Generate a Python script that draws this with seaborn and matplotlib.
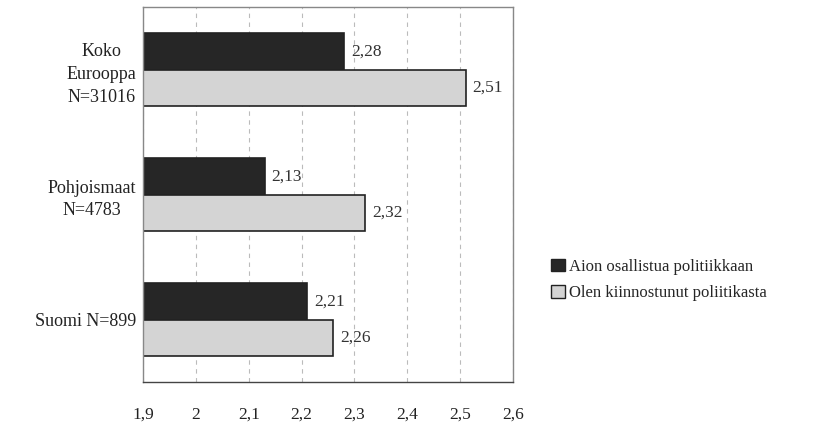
import matplotlib
matplotlib.use("Agg")
import matplotlib.pyplot as plt
import pandas as pd
import seaborn as sns
from matplotlib.patches import Patch

groups = ["Koko\nEurooppa\nN=31016", "Pohjoismaat\nN=4783", "Suomi N=899"]
series = ["Aion osallistua politiikkaan", "Olen kiinnostunut poliitikasta"]
osallistua = [2.28, 2.13, 2.21]
kiinnostunut = [2.51, 2.32, 2.26]
xticks = [1.9, 2.0, 2.1, 2.2, 2.3, 2.4, 2.5, 2.6]
colors = ["#262626", "#d4d4d4"]

frame = pd.DataFrame({
    "group": groups * 2,
    "series": [series[0]] * 3 + [series[1]] * 3,
    "value": osallistua + kiinnostunut,
})

sns.set_theme(style="white")
plt.rcParams["font.family"] = ["Liberation Serif", "DejaVu Serif"]

fig = plt.figure(figsize=(8.28, 4.24), dpi=100)
ax = fig.add_axes([0.1727, 0.099, 0.447, 0.884])
sns.barplot(frame, y="group", x="value", hue="series", orient="h", palette=colors,
            width=0.58, edgecolor="#222222", linewidth=1.2, legend=False, ax=ax)
ax.set_xlim(1.9, 2.6)
ax.set_xticks(xticks)
ax.set_xticklabels([f"{t:g}".replace(".", ",") for t in xticks], fontsize=12.5, color="#222222")
ax.tick_params(axis="x", pad=18, length=0)
ax.tick_params(axis="y", length=0, pad=5)
for lab in ax.get_yticklabels():
    lab.set_fontsize(13)
    lab.set_multialignment("center")
    lab.set_linespacing(1.45)
    lab.set_color("#222222")
ax.set(xlabel="", ylabel="")
ax.xaxis.grid(True, linestyle=(0, (4, 4)), color="#bbbbbb", linewidth=0.8)
ax.set_axisbelow(True)
for spine in ax.spines.values():
    spine.set_color("#888888")
    spine.set_linewidth(1)
ax.spines["bottom"].set_color("#444444")

for container in ax.containers:
    ax.bar_label(container, labels=[f"{v:.2f}".replace(".", ",") for v in container.datavalues],
                 padding=5, fontsize=12.5, color="#333333")

handles = [Patch(facecolor=c, edgecolor="#222222", label=s) for c, s in zip(colors, series)]
fig.legend(handles=handles, loc="center left", bbox_to_anchor=(0.666, 0.34),
           frameon=False, fontsize=12, handlelength=0.8, handleheight=0.8,
           handletextpad=0.25, labelspacing=0.6, borderpad=0, borderaxespad=0)

fig.savefig("out.png", dpi=100)
